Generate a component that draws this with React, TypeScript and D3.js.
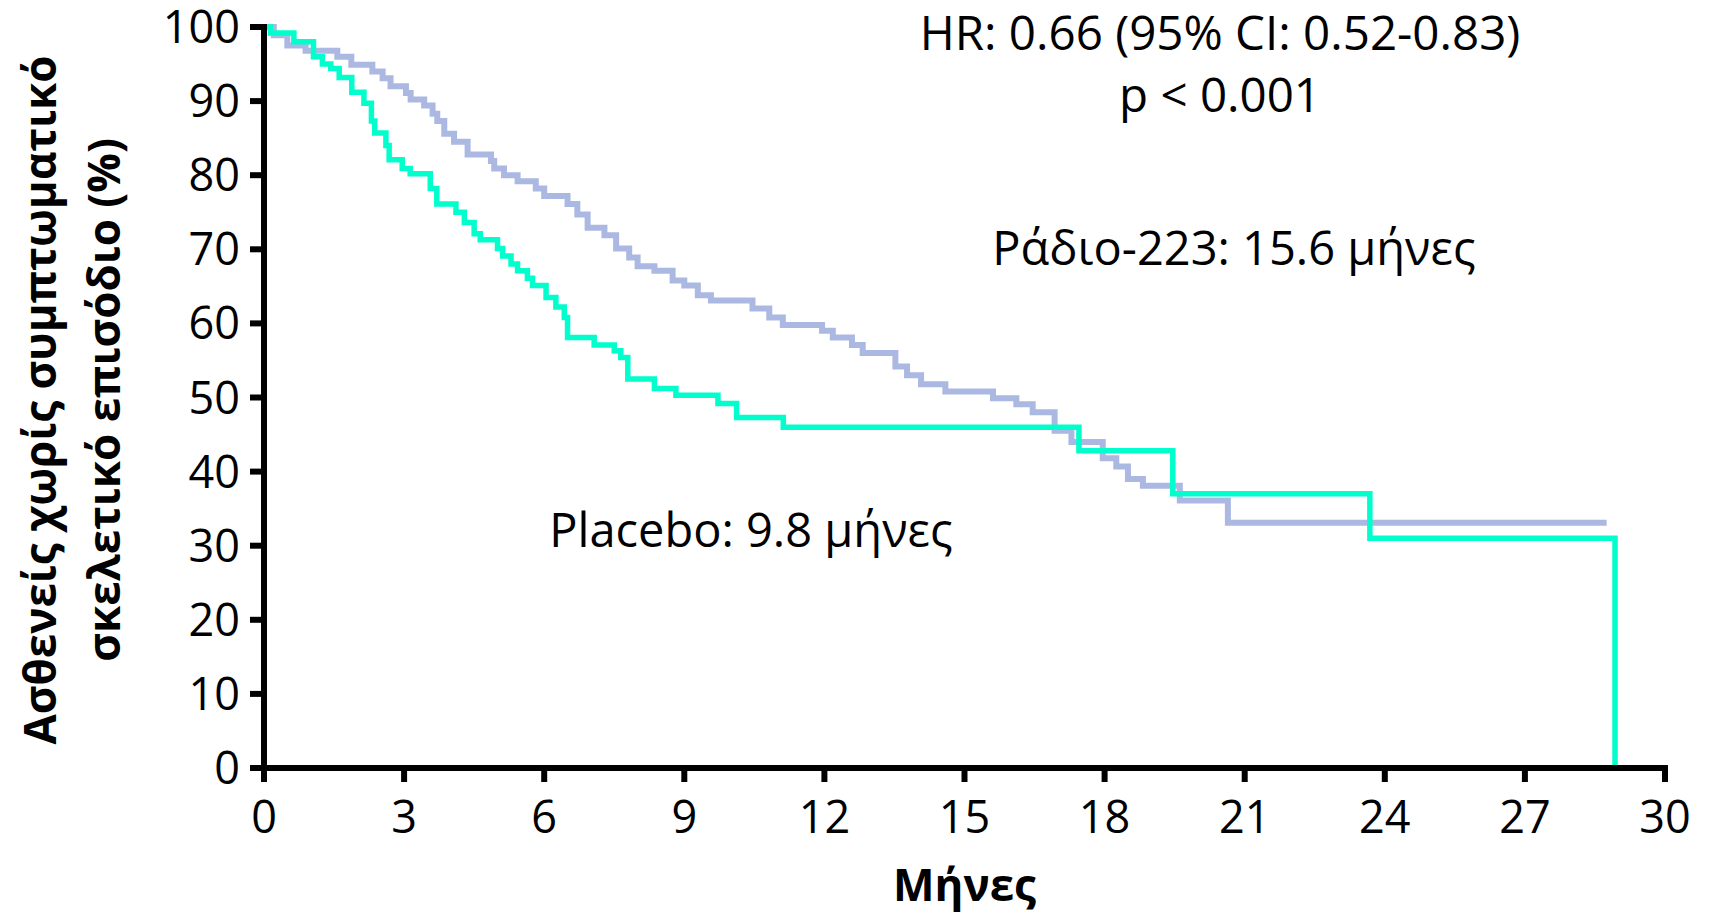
import React from "react";
import * as d3 from "d3";

// Kaplan–Meier estimates: time of each event (months) and survival after it (%)
const radiumTimes = [0.21, 0.5, 0.89, 1.57, 1.87, 2.32, 2.54, 2.71, 3.04, 3.14, 3.43, 3.61, 3.71, 3.86, 4.07, 4.36, 4.86, 4.93, 5.14, 5.43, 5.82, 6.0, 6.5, 6.71, 6.93, 7.29, 7.54, 7.82, 8.0, 8.36, 8.75, 9.0, 9.29, 9.57, 10.46, 10.82, 11.11, 11.95, 12.18, 12.59, 12.82, 13.52, 13.77, 14.07, 14.59, 15.61, 16.11, 16.46, 16.93, 17.29, 17.96, 18.25, 18.5, 18.82, 19.61, 20.64];
const radiumSurvival = [98.9, 97.5, 96.8, 96.0, 94.9, 94.0, 93.1, 92.0, 91.1, 90.2, 89.4, 88.3, 87.3, 85.6, 84.5, 82.8, 81.9, 80.9, 80.0, 79.2, 78.2, 77.2, 76.1, 74.7, 72.9, 71.9, 70.1, 68.9, 67.7, 67.1, 65.8, 65.1, 63.8, 63.1, 62.0, 60.8, 59.8, 59.0, 58.1, 57.1, 56.0, 54.2, 53.0, 51.8, 50.8, 49.9, 49.1, 48.0, 45.5, 44.0, 41.8, 40.7, 39.0, 38.1, 36.1, 33.1];
const radiumFollowUpEnd = 28.75;

const placeboTimes = [0.14, 0.64, 1.06, 1.25, 1.43, 1.61, 1.88, 2.14, 2.3, 2.37, 2.61, 2.68, 2.96, 3.13, 3.56, 3.7, 4.11, 4.29, 4.5, 4.63, 5.0, 5.11, 5.29, 5.43, 5.64, 5.75, 6.04, 6.25, 6.43, 6.5, 7.07, 7.5, 7.64, 7.79, 8.36, 8.82, 9.72, 10.12, 11.12, 17.45, 19.46, 23.68, 28.93];
const placeboSurvival = [99.2, 98.0, 96.0, 95.0, 94.4, 93.2, 91.2, 89.7, 87.3, 85.7, 84.0, 82.1, 80.9, 80.2, 78.2, 76.1, 75.0, 73.6, 72.1, 71.3, 70.1, 69.1, 68.0, 67.1, 66.1, 65.1, 63.5, 62.2, 60.8, 58.1, 57.1, 56.3, 55.4, 52.5, 51.2, 50.3, 49.2, 47.3, 46.0, 42.8, 37.0, 31.0, 0];

const xTicks = [0, 3, 6, 9, 12, 15, 18, 21, 24, 27, 30];
const yTicks = [0, 10, 20, 30, 40, 50, 60, 70, 80, 90, 100];

const yTitleLines = ["Ασθενείς χωρίς συμπτωματικό", "σκελετικό επισόδιο (%)"];
const xTitle = "Μήνες";
const hrText = "HR: 0.66 (95% CI: 0.52-0.83)";
const pText = "p < 0.001";
const radiumLabel = "Ράδιο-223: 15.6 μήνες";
const placeboLabel = "Placebo: 9.8 μήνες";

const W = 1709;
const H = 914;
const left = 264;
const right = 1665;
const top = 27;
const bottom = 768;

const FONT = "'Open Sans', 'Noto Sans', sans-serif";

type Pt = [number, number];

function stepPoints(times: number[], surv: number[], end?: number): Pt[] {
  const pts: Pt[] = [[0, 100]];
  times.forEach((t, i) => pts.push([t, surv[i]]));
  if (end !== undefined) pts.push([end, surv[surv.length - 1]]);
  return pts;
}

export default function App() {
  const x = d3.scaleLinear().domain([0, 30]).range([left, right]);
  const y = d3.scaleLinear().domain([0, 100]).range([bottom, top]);

  const line = d3
    .line<Pt>()
    .x((d) => x(d[0]))
    .y((d) => y(d[1]))
    .curve(d3.curveStepAfter);

  const radiumPath = line(stepPoints(radiumTimes, radiumSurvival, radiumFollowUpEnd)) || "";
  const placeboPath = line(stepPoints(placeboTimes, placeboSurvival)) || "";

  const axisW = 6;
  const tickLen = 14;

  return (
    <svg
      width={W}
      height={H}
      viewBox={`0 0 ${W} ${H}`}
      style={{ position: "absolute", left: 0, top: 0, display: "block", background: "#fff" }}
      fontFamily={FONT}
    >
      <rect x={0} y={0} width={W} height={H} fill="#fff" />

      {/* survival curves */}
      <path d={radiumPath} fill="none" stroke="#abb8e2" strokeWidth={6} strokeLinejoin="miter" />
      <path d={placeboPath} fill="none" stroke="#00ffcc" strokeWidth={5.5} strokeLinejoin="miter" />

      {/* y axis */}
      <line x1={left} x2={left} y1={y(100) - axisW / 2} y2={bottom + axisW / 2} stroke="#000" strokeWidth={axisW} />
      {yTicks.map((t) => (
        <g key={`y${t}`}>
          <line x1={left - tickLen} x2={left} y1={y(t)} y2={y(t)} stroke="#000" strokeWidth={axisW} />
          <text x={left - 24} y={y(t) + 16} textAnchor="end" fontSize={45} fill="#000">
            {t}
          </text>
        </g>
      ))}

      {/* x axis */}
      <line x1={left - axisW / 2} x2={right + axisW / 2} y1={bottom} y2={bottom} stroke="#000" strokeWidth={axisW} />
      {xTicks.map((t) => (
        <g key={`x${t}`}>
          <line x1={x(t)} x2={x(t)} y1={bottom} y2={bottom + tickLen} stroke="#000" strokeWidth={axisW} />
          <text x={x(t)} y={833} textAnchor="middle" fontSize={45} fill="#000">
            {t}
          </text>
        </g>
      ))}

      {/* axis titles */}
      <text x={(left + right) / 2} y={901} textAnchor="middle" fontSize={44} fontWeight={700} fill="#000">
        {xTitle}
      </text>
      <g transform="rotate(-90)">
        <text x={-400} y={56} textAnchor="middle" fontSize={44} fontWeight={700} fill="#000">
          {yTitleLines[0]}
        </text>
        <text x={-400} y={120} textAnchor="middle" fontSize={44} fontWeight={700} fill="#000">
          {yTitleLines[1]}
        </text>
      </g>

      {/* annotations */}
      <text x={1220} y={50} textAnchor="middle" fontSize={47.5} fill="#000">
        {hrText}
      </text>
      <text x={1220} y={112} textAnchor="middle" fontSize={47.5} fill="#000">
        {pText}
      </text>
      <text x={1234} y={265} textAnchor="middle" fontSize={47} fill="#000">
        {radiumLabel}
      </text>
      <text x={751} y={547} textAnchor="middle" fontSize={47} fill="#000">
        {placeboLabel}
      </text>
    </svg>
  );
}
